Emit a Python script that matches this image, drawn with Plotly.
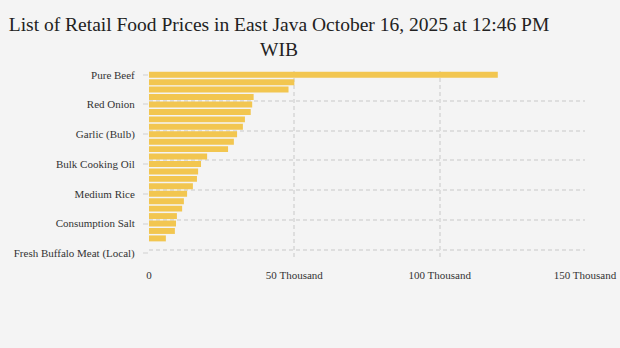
import plotly.graph_objects as go

title_text = "List of Retail Food Prices in East Java October 16, 2025 at 12:46 PM<br>WIB"

items = [
    "Pure Beef", "Cayenne Pepper", "Large Red Chili", "Curly Red Chili",
    "Red Onion", "Broiler Chicken Meat", "Dried Anchovies", "Peanuts",
    "Garlic (Bulb)", "Broiler Chicken Eggs", "Packaged Cooking Oil", "Mung Beans",
    "Bulk Cooking Oil", "Granulated Sugar", "Premium Rice", "Soybeans",
    "Medium Rice", "Wheat Flour", "Instant Noodles", "Iodized Salt",
    "Consumption Salt", "Sweetened Condensed Milk", "Shelled Corn", "Cassava",
    "Fresh Buffalo Meat (Local)",
]
prices = [
    120000, 50000, 48000, 36000,
    35500, 35000, 33000, 32300,
    30300, 29200, 27200, 20000,
    17900, 16900, 16500, 15100,
    13100, 12000, 11400, 9600,
    9300, 8900, 5800, None,
    None,
]
labelled_items = ["Pure Beef", "Red Onion", "Garlic (Bulb)", "Bulk Cooking Oil",
                  "Medium Rice", "Consumption Salt", "Fresh Buffalo Meat (Local)"]
x_tickvals = [0, 50000, 100000, 150000]
x_ticktext = ["0", "50 Thousand", "100 Thousand", "150 Thousand"]

n = len(items)
boundaries = [i - 0.5 for i in range(0, n, 4)]

BG = "#F4F4F4"
GRID = "#DEDEDE"
BAR = "#F2C650"
FONT = "Liberation Serif, Times New Roman, serif"

fig = go.Figure()
fig.add_trace(go.Bar(
    x=prices, y=items, orientation="h",
    marker=dict(color=BAR, line=dict(width=0)),
    hoverinfo="x+y",
))
# helper (invisible) trace so the boundary-grid axis is built
fig.add_trace(go.Scatter(
    x=[None], y=[None], yaxis="y2", mode="markers",
    showlegend=False, hoverinfo="skip",
))

fig.update_layout(
    width=620, height=348,
    paper_bgcolor=BG, plot_bgcolor=BG,
    margin=dict(l=149, r=35, t=71, b=91),
    showlegend=False,
    bargap=0.2,
    title=dict(
        text=title_text,
        x=279 / 620, xanchor="center",
        y=1 - 31 / 348, yanchor="middle",
        font=dict(family=FONT, size=19.5, color="#222222"),
    ),
    font=dict(family=FONT, size=11, color="#333333"),
    xaxis=dict(
        range=[0, 150000], automargin=False,
        tickmode="array", tickvals=x_tickvals, ticktext=x_ticktext,
        showgrid=True, gridcolor=GRID, gridwidth=2, griddash="4px,3px",
        zeroline=False, showline=False, ticks="",
        ticklabelstandoff=10,
        tickfont=dict(family=FONT, size=11, color="#333333"),
    ),
    yaxis=dict(
        type="category", automargin=False,
        categoryorder="array", categoryarray=items,
        range=[n - 0.5, -0.5],
        tickmode="array", tickvals=labelled_items, ticktext=labelled_items,
        showgrid=False, zeroline=False, showline=False,
        ticks="outside", ticklen=5, tickwidth=2, tickcolor="#E2E2E2",
        ticklabelstandoff=6,
        tickfont=dict(family=FONT, size=11, color="#333333"),
    ),
    yaxis2=dict(
        overlaying="y", anchor="x", automargin=False,
        range=[n - 0.5, -0.5],
        tickmode="array", tickvals=boundaries,
        showticklabels=False, ticks="",
        showgrid=True, gridcolor=GRID, gridwidth=2, griddash="4px,3px",
        zeroline=False, showline=False,
    ),
)

fig.write_html("out.html")
